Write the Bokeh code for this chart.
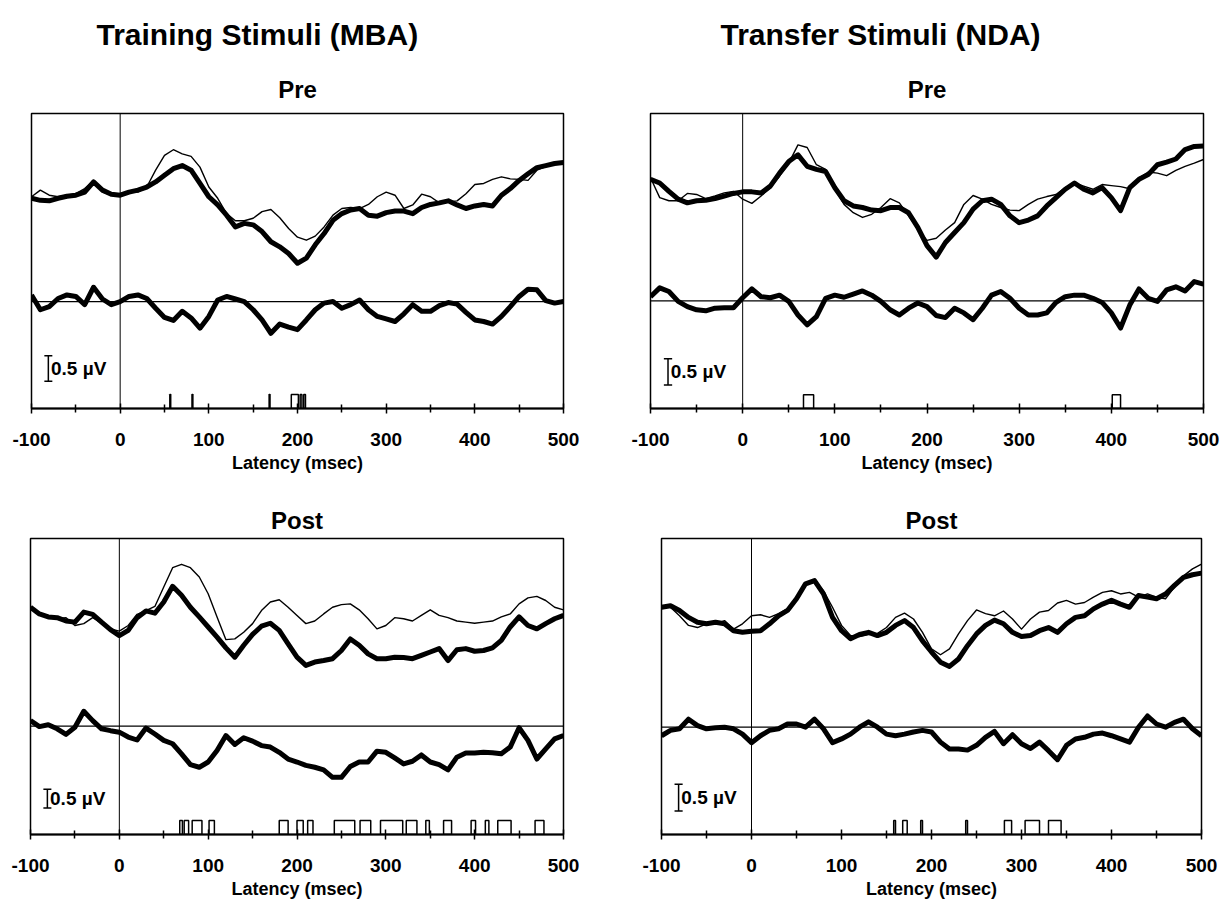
import numpy as np
from bokeh.plotting import figure
from bokeh.models import Range1d, FixedTicker, Title, Span
from bokeh.layouts import column, row
from bokeh.embed import file_html
from bokeh.resources import INLINE
from bokeh.core.properties import value

# ---------------- data (µV) ----------------
latency = list(range(-100, 501, 10))
x_ticks = [-100, 0, 100, 200, 300, 400, 500]
x_minor = [-50, 50, 150, 250, 350, 450]

# Training stimuli (MBA) - Pre
tl_thin = [-0.03, 0.10, 0.00, -0.03, 0.00, 0.03, 0.13, 0.29, 0.06, 0.01,
           0.03, 0.06, 0.06, 0.16, 0.49, 0.78, 0.89, 0.81, 0.76, 0.55,
           0.16, -0.06, -0.36, -0.50, -0.50, -0.45, -0.32, -0.28, -0.44, -0.65,
           -0.82, -0.88, -0.80, -0.62, -0.39, -0.26, -0.24, -0.26, -0.18, -0.03,
           0.06, 0.00, -0.26, -0.19, 0.02, -0.03, -0.15, -0.13, -0.11, 0.03,
           0.21, 0.23, 0.31, 0.36, 0.32, 0.31, 0.29, 0.49, 0.56, 0.60,
           0.62]
tl_thick = [-0.06, -0.10, -0.11, -0.06, -0.02, 0.00, 0.06, 0.26, 0.10, 0.02,
            0.00, 0.06, 0.10, 0.16, 0.26, 0.39, 0.52, 0.58, 0.49, 0.23,
            -0.03, -0.19, -0.39, -0.62, -0.55, -0.58, -0.71, -0.91, -1.01, -1.14,
            -1.33, -1.23, -0.97, -0.75, -0.49, -0.36, -0.29, -0.26, -0.39, -0.41,
            -0.34, -0.31, -0.31, -0.36, -0.24, -0.18, -0.15, -0.11, -0.19, -0.26,
            -0.21, -0.18, -0.21, 0.00, 0.13, 0.29, 0.42, 0.54, 0.58, 0.62,
            0.64]
tl_diff = [0.13, -0.16, -0.10, 0.06, 0.13, 0.10, -0.06, 0.28, 0.05, -0.06,
           0.00, 0.10, 0.13, 0.06, -0.13, -0.31, -0.37, -0.19, -0.32, -0.52,
           -0.29, 0.03, 0.10, 0.05, 0.00, -0.16, -0.36, -0.62, -0.44, -0.50,
           -0.55, -0.36, -0.16, -0.03, 0.00, -0.13, -0.06, 0.03, -0.16, -0.29,
           -0.34, -0.39, -0.24, -0.06, -0.19, -0.19, -0.08, -0.02, -0.05, -0.21,
           -0.36, -0.39, -0.44, -0.29, -0.10, 0.10, 0.24, 0.23, 0.02, -0.03,
           0.00]
tl_sig_start = [56, 81, 168, 193, 203, 207]
tl_sig_end = [57, 82, 169, 201, 205, 209]

# Transfer stimuli (NDA) - Pre
tr_thin = [0.35, -0.03, -0.09, -0.09, 0.05, 0.03, -0.05, 0.00, 0.06, 0.09,
           -0.06, -0.14, 0.00, 0.16, 0.38, 0.63, 0.98, 0.93, 0.60, 0.51,
           0.13, -0.16, -0.32, -0.41, -0.35, -0.22, -0.05, -0.13, -0.38, -0.63,
           -0.85, -0.81, -0.65, -0.51, -0.16, 0.01, -0.06, -0.16, -0.22, -0.27,
           -0.28, -0.16, -0.06, -0.01, 0.03, 0.16, 0.25, 0.19, 0.13, 0.22,
           0.20, 0.18, 0.14, 0.35, 0.46, 0.44, 0.39, 0.49, 0.57, 0.63,
           0.70]
tr_thick = [0.32, 0.25, 0.09, -0.06, -0.13, -0.09, -0.08, -0.05, 0.00, 0.05,
            0.08, 0.08, 0.06, 0.19, 0.44, 0.66, 0.79, 0.57, 0.51, 0.47,
            0.16, -0.09, -0.19, -0.22, -0.27, -0.28, -0.22, -0.22, -0.32, -0.60,
            -0.95, -1.17, -0.89, -0.70, -0.51, -0.25, -0.09, -0.06, -0.16, -0.38,
            -0.51, -0.46, -0.38, -0.19, -0.03, 0.13, 0.25, 0.13, 0.06, 0.16,
            -0.03, -0.28, 0.16, 0.32, 0.41, 0.60, 0.65, 0.71, 0.89, 0.95,
            0.96]
tr_diff = [0.08, 0.25, 0.18, -0.01, -0.11, -0.17, -0.19, -0.14, -0.13, -0.13,
           0.06, 0.23, 0.08, 0.06, 0.11, -0.01, -0.27, -0.46, -0.30, 0.05,
           0.11, 0.07, 0.13, 0.19, 0.11, -0.01, -0.17, -0.27, -0.14, -0.04,
           -0.11, -0.28, -0.32, -0.14, -0.23, -0.36, -0.14, 0.11, 0.18, 0.05,
           -0.14, -0.27, -0.27, -0.23, -0.03, 0.08, 0.11, 0.11, 0.05, -0.03,
           -0.23, -0.52, -0.08, 0.23, 0.05, -0.01, 0.21, 0.27, 0.19, 0.37,
           0.32]
tr_sig_start = [66, 401]
tr_sig_end = [77, 410]

# Training stimuli (MBA) - Post
bl_thin = [0.22, 0.04, -0.03, -0.09, -0.06, -0.27, -0.22, -0.06, -0.21, -0.36,
           -0.42, -0.27, 0.03, 0.13, 0.24, 0.76, 1.28, 1.37, 1.28, 1.03,
           0.58, -0.04, -0.65, -0.63, -0.45, -0.22, 0.13, 0.36, 0.42, 0.22,
           0.00, -0.22, -0.15, 0.04, 0.22, 0.29, 0.31, 0.15, -0.09, -0.36,
           -0.27, -0.06, -0.09, -0.15, 0.00, 0.15, 0.00, -0.06, -0.15, -0.18,
           -0.21, -0.18, -0.15, -0.04, 0.04, 0.31, 0.47, 0.51, 0.40, 0.22,
           0.15]
bl_thick = [0.22, 0.04, -0.04, -0.06, -0.15, -0.18, 0.09, 0.03, -0.18, -0.38,
            -0.54, -0.40, -0.06, 0.12, 0.06, 0.36, 0.78, 0.54, 0.22, -0.04,
            -0.31, -0.58, -0.87, -1.12, -0.80, -0.51, -0.29, -0.21, -0.40, -0.76,
            -1.12, -1.34, -1.25, -1.21, -1.16, -0.94, -0.63, -0.80, -1.03, -1.16,
            -1.16, -1.12, -1.13, -1.16, -1.07, -0.98, -0.89, -1.21, -0.92, -0.89,
            -0.96, -0.94, -0.87, -0.67, -0.31, -0.04, -0.27, -0.36, -0.22, -0.09,
            0.00]
bl_diff = [0.15, -0.01, 0.04, -0.07, -0.22, -0.03, 0.40, 0.15, -0.07, -0.12,
           -0.16, -0.29, -0.37, -0.05, -0.21, -0.38, -0.47, -0.74, -1.03, -1.10,
           -0.96, -0.65, -0.25, -0.49, -0.31, -0.40, -0.52, -0.56, -0.70, -0.88,
           -0.96, -1.05, -1.10, -1.17, -1.37, -1.37, -1.08, -0.96, -0.96, -0.67,
           -0.70, -0.85, -1.01, -0.94, -0.77, -0.96, -1.03, -1.17, -0.83, -0.72,
           -0.72, -0.70, -0.71, -0.74, -0.56, -0.04, -0.38, -0.88, -0.61, -0.34,
           -0.25]
bl_sig_start = [68, 73, 82, 101, 180, 200, 212, 242, 271, 294, 323, 345, 365, 396, 412, 426, 468]
bl_sig_end = [71, 78, 93, 107, 190, 207, 218, 265, 283, 319, 335, 349, 374, 401, 416, 441, 478]

# Transfer stimuli (NDA) - Post
br_thin = [0.25, 0.25, 0.09, -0.09, -0.13, -0.06, -0.06, 0.00, -0.16, -0.06,
           0.09, 0.11, 0.06, 0.13, 0.22, 0.44, 0.69, 0.75, 0.56, 0.25,
           -0.09, -0.28, -0.30, -0.26, -0.24, -0.13, 0.06, 0.14, 0.03, -0.22,
           -0.53, -0.64, -0.53, -0.25, 0.00, 0.20, 0.13, 0.09, 0.18, 0.03,
           -0.16, 0.03, 0.16, 0.19, 0.33, 0.38, 0.31, 0.34, 0.44, 0.53,
           0.56, 0.50, 0.53, 0.44, 0.50, 0.44, 0.41, 0.63, 0.84, 0.97,
           1.06]
br_thick = [0.25, 0.28, 0.19, 0.06, -0.03, -0.06, -0.03, -0.06, -0.19, -0.22,
            -0.20, -0.19, -0.06, 0.09, 0.19, 0.41, 0.69, 0.75, 0.50, 0.06,
            -0.19, -0.34, -0.26, -0.22, -0.28, -0.22, -0.09, 0.00, -0.13, -0.38,
            -0.59, -0.78, -0.86, -0.72, -0.47, -0.25, -0.09, 0.01, -0.06, -0.22,
            -0.30, -0.28, -0.19, -0.13, -0.22, -0.06, 0.06, 0.09, 0.22, 0.31,
            0.38, 0.31, 0.25, 0.47, 0.44, 0.41, 0.50, 0.66, 0.81, 0.86,
            0.89]
br_diff = [-0.16, -0.06, -0.03, 0.15, 0.03, -0.03, -0.01, 0.00, -0.03, -0.13,
           -0.29, -0.16, -0.06, -0.03, 0.06, 0.06, 0.00, 0.15, -0.03, -0.29,
           -0.22, -0.13, 0.00, 0.10, 0.00, -0.13, -0.16, -0.13, -0.09, -0.06,
           -0.09, -0.28, -0.41, -0.41, -0.43, -0.34, -0.19, -0.08, -0.31, -0.14,
           -0.31, -0.40, -0.28, -0.44, -0.61, -0.34, -0.22, -0.19, -0.13, -0.11,
           -0.16, -0.22, -0.28, 0.00, 0.21, 0.06, 0.00, 0.09, 0.15, -0.03,
           -0.16]
br_sig_start = [158, 168, 188, 238, 281, 304, 330]
br_sig_end = [160, 173, 190, 240, 289, 320, 344]

scale_bar_uv = 0.5
scale_label = "0.5 µV"
x_label = "Latency (msec)"

# ---------------- layout / style ----------------
FONT = "'Liberation Sans', Arial, sans-serif"


def make_panel(thin, thick, diff, sig_start, sig_end, cfg, sub_title, main_title=None, main_offset=0):
    H = cfg["H"]
    y0 = -(H - cfg["base"]) / cfg["ppu"]
    y1 = cfg["base"] / cfg["ppu"]
    p = figure(width=cfg["width"], height=cfg["height"],
               x_range=Range1d(-100, 500), y_range=Range1d(y0, y1),
               output_backend="svg", toolbar_location=None, y_axis_location=None,
               min_border_left=cfg["left"], min_border_right=cfg["right"],
               min_border_top=cfg["top"], min_border_bottom=cfg["height"] - cfg["top"] - H,
               background_fill_color="white", border_fill_color="white")
    p.grid.visible = False
    p.outline_line_color = "black"
    p.outline_line_width = 1.5

    # titles (p.title is the outermost; added titles sit nearer the frame)
    sub = dict(text=sub_title, align="center", text_font=FONT, text_font_size="24px",
               text_font_style="bold", text_color="black")
    if main_title:
        p.title.text = main_title
        p.title.align = "left"
        p.title.offset = main_offset
        p.title.text_font = FONT
        p.title.text_font_size = "30px"
        p.title.text_font_style = "bold"
        p.title.text_color = "black"
        p.title.standoff = 23
        p.add_layout(Title(standoff=22, **sub), "above")
    else:
        p.title.text = sub_title
        p.title.align = "center"
        p.title.text_font = FONT
        p.title.text_font_size = "24px"
        p.title.text_font_style = "bold"
        p.title.text_color = "black"
        p.title.standoff = 9

    # axis
    ax = p.xaxis[0]
    ax.ticker = FixedTicker(ticks=x_ticks, minor_ticks=x_minor)
    ax.major_label_overrides = {t: str(t) for t in x_ticks}
    ax.axis_line_width = 2
    ax.major_tick_line_width = 1.5
    ax.minor_tick_line_width = 1.5
    ax.major_tick_in = 5
    ax.major_tick_out = 5
    ax.minor_tick_in = 4
    ax.minor_tick_out = 4
    ax.major_label_text_font = FONT
    ax.major_label_text_font_size = "19px"
    ax.major_label_text_font_style = "bold"
    ax.major_label_text_color = "black"
    ax.major_label_standoff = 19
    ax.axis_label = x_label
    ax.axis_label_text_font = FONT
    ax.axis_label_text_font_size = "18px"
    ax.axis_label_text_font_style = "bold"
    ax.axis_label_text_color = "black"
    ax.axis_label_standoff = 4

    # reference lines
    p.add_layout(Span(location=0, dimension="height", line_color="black", line_width=1))
    p.add_layout(Span(location=0, dimension="width", line_color="black", line_width=1.3))

    off = cfg["erp"]
    p.line(latency, np.array(thin) + off, line_color="black", line_width=1.4, line_join="round")
    p.line(latency, np.array(thick) + off, line_color="black", line_width=5, line_join="round")
    p.line(latency, diff, line_color="black", line_width=5, line_join="round")

    # significance windows
    h = cfg["sig_px"] / cfg["ppu"]
    p.quad(left=sig_start, right=sig_end, bottom=[y0] * len(sig_start), top=[y0 + h] * len(sig_start),
           fill_color=None, line_color="black", line_width=1.5)

    # scale bar
    c = cfg["bar"]
    sx = cfg["bar_x"]
    half = scale_bar_uv / 2
    p.segment(x0=[sx, sx - 4.5, sx - 4.5], y0=[c - half, c - half, c + half],
              x1=[sx, sx + 4.5, sx + 4.5], y1=[c + half, c - half, c + half],
              line_color="black", line_width=1.5)
    p.text(x=[sx + 3], y=[c], text=[scale_label], text_font=value(FONT), text_font_size="19px",
           text_font_style="bold", text_baseline="middle", text_align="left", text_color="black")
    return p


cfg_tl = dict(width=600, height=485, left=31, right=37, top=113, H=296, ppu=51.3, base=188.7,
              erp=2.08, bar=-1.31, bar_x=-81, sig_px=14)
cfg_tr = dict(width=626, height=485, left=50, right=23, top=110, H=298, ppu=52.7, base=189.3,
              erp=2.01, bar=-1.36, bar_x=-81, sig_px=14)
cfg_bl = dict(width=600, height=420, left=30, right=37, top=53, H=296, ppu=37.3, base=187.7,
              erp=2.97, bar=-1.94, bar_x=-81, sig_px=14)
cfg_br = dict(width=626, height=420, left=61, right=25, top=53, H=296, ppu=53.3, base=188.7,
              erp=2.0, bar=-1.32, bar_x=-81, sig_px=14)

p_tl = make_panel(tl_thin, tl_thick, tl_diff, tl_sig_start, tl_sig_end, cfg_tl, "Pre",
                  "Training Stimuli  (MBA)", 65)
p_tr = make_panel(tr_thin, tr_thick, tr_diff, tr_sig_start, tr_sig_end, cfg_tr, "Pre",
                  "Transfer Stimuli  (NDA)", 70)
p_bl = make_panel(bl_thin, bl_thick, bl_diff, bl_sig_start, bl_sig_end, cfg_bl, "Post")
p_br = make_panel(br_thin, br_thick, br_diff, br_sig_start, br_sig_end, cfg_br, "Post")

layout = column(row(p_tl, p_tr), row(p_bl, p_br))
open("out.html", "w").write(file_html(layout, INLINE))
